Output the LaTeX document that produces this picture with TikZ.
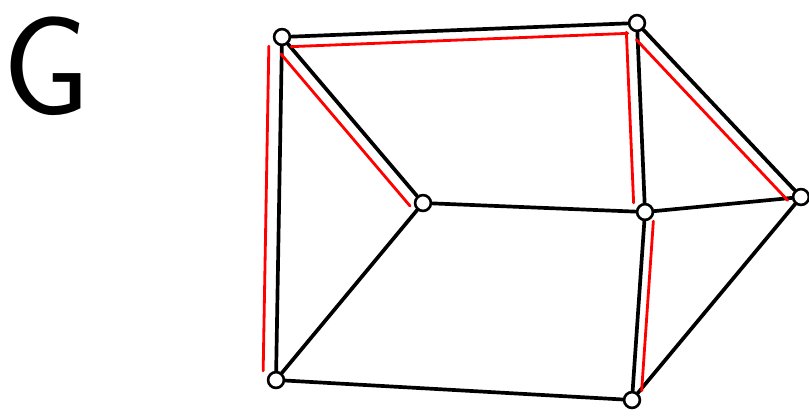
\documentclass[tikz,border=0pt]{standalone}
\usepackage{fontspec}
\tikzset{vertex/.style={draw, line width=1.5pt, fill=white, circle, inner sep=0pt, minimum size=9pt}}
\tikzset{edge/.style={line width=2.1pt, line cap=round}}
\tikzset{tree/.style={red, line width=1.6pt, line cap=round, transform canvas={shift={#1}}}}

\begin{document}
\begin{tikzpicture}[x=0.02cm,y=-0.02cm]
\useasboundingbox (0,0) rectangle (809,417);
\node[font=\sffamily\fontsize{80}{80}\selectfont, inner sep=0pt] (g) at (47,66) {G};

% vertices
\foreach \n/\x/\y in {a/282/37, b/637/23, c/423/203, d/645/212, e/801/197, f/276/380, h/632/400}
{
  \node[vertex] (\n) at (\x,\y) {};
}

% edges
\foreach \u/\v in {a/b, a/c, a/f, b/d, b/e, c/d, d/e, c/f, f/h, d/h, e/h}
{
  \draw[edge] (\u) -- (\v);
}

% spanning tree in red
\foreach \u/\v/\dx/\dy in {a/b/0/10, a/c/-7/10, a/f/-13/0, b/d/-11/0, b/e/-7/10, d/h/9/0}
{
  \draw[tree={(\dx,\dy)}] (\u) -- (\v);
}
\end{tikzpicture}
\end{document}
